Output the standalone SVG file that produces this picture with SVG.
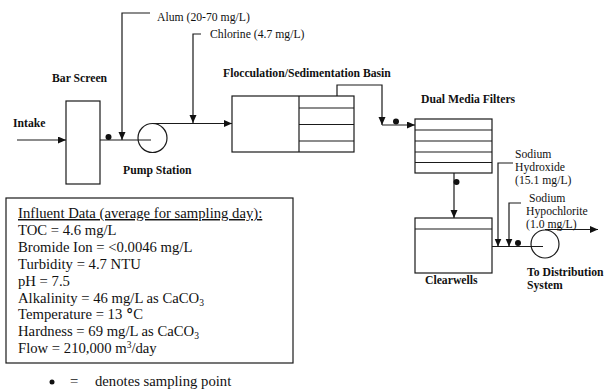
<svg xmlns="http://www.w3.org/2000/svg" width="606" height="389" viewBox="0 0 606 389">
<style>
.ln{fill:none;stroke:#1a1a1a;stroke-width:1.2}
.bx{fill:#fff;stroke:#1a1a1a;stroke-width:1.2}
.lb{font-family:"Liberation Serif",serif;font-weight:bold;font-size:11.7px;fill:#111}
.rg{font-family:"Liberation Serif",serif;font-size:11.7px;fill:#111}
.dt{font-family:"Liberation Serif",serif;font-size:14.7px;fill:#111}
.dot{fill:#111}
</style>
<defs>
<marker id="ah" markerUnits="userSpaceOnUse" markerWidth="9" markerHeight="8" refX="8" refY="3.5" orient="auto">
<path d="M0,0 L8,3.5 L0,7 z" fill="#111"/>
</marker>
</defs>
<rect width="606" height="389" fill="#fff"/>

<g id="connectors">
<line class="ln" x1="17" y1="140" x2="66" y2="140" marker-end="url(#ah)"/>
<line class="ln" x1="100" y1="140" x2="151" y2="140"/>
<polyline class="ln" points="150,13 122,13 122,140" marker-end="url(#ah)"/>
<polyline class="ln" points="201,34 193,34 193,123" marker-end="url(#ah)"/>
<line class="ln" x1="152" y1="123.5" x2="232" y2="123.5" marker-end="url(#ah)"/>
<polyline class="ln" points="337,96 337,85 382,85 382,125" marker-end="url(#ah)"/>
<line class="ln" x1="382" y1="125" x2="415" y2="125" marker-end="url(#ah)"/>
<line class="ln" x1="454" y1="173" x2="454" y2="218" marker-end="url(#ah)"/>
<line class="ln" x1="492" y1="246.5" x2="543" y2="246.5"/>
<polyline class="ln" points="513,163 498,163 498,246.5" marker-end="url(#ah)"/>
<polyline class="ln" points="521,203 509,203 509,246.5" marker-end="url(#ah)"/>
<line class="ln" x1="545" y1="229.5" x2="598" y2="229.5" marker-end="url(#ah)"/>
</g>

<g id="intake"><text class="lb" x="13" y="127">Intake</text></g>

<g id="bar-screen">
<rect class="bx" x="66" y="101" width="34" height="83"/>
<text class="lb" x="52" y="82">Bar Screen</text>
</g>

<g id="alum"><text class="rg" x="157" y="21">Alum (20-70 mg/L)</text></g>
<g id="chlorine"><text class="rg" x="210" y="38">Chlorine (4.7 mg/L)</text></g>

<g id="pump-station">
<circle class="ln" cx="152.5" cy="138" r="14.5"/>
<text class="lb" x="123" y="174">Pump Station</text>
</g>

<g id="floc-basin">
<rect class="bx" x="232" y="96" width="122" height="56"/>
<line class="ln" x1="299" y1="96" x2="299" y2="152"/>
<line class="ln" x1="299" y1="108" x2="354" y2="108"/>
<line class="ln" x1="299" y1="124.5" x2="354" y2="124.5"/>
<line class="ln" x1="299" y1="141" x2="354" y2="141"/>
<text class="lb" x="223" y="77">Flocculation/Sedimentation Basin</text>
</g>

<g id="dual-media-filters">
<rect class="bx" x="415" y="119" width="77" height="54"/>
<line class="ln" x1="415" y1="130" x2="492" y2="130"/>
<line class="ln" x1="415" y1="141" x2="492" y2="141"/>
<line class="ln" x1="415" y1="152" x2="492" y2="152"/>
<line class="ln" x1="415" y1="162.5" x2="492" y2="162.5"/>
<text class="lb" x="421" y="103">Dual Media Filters</text>
</g>

<g id="clearwells">
<rect class="bx" x="415" y="218" width="77" height="55"/>
<line class="ln" x1="415" y1="229" x2="492" y2="229"/>
<text class="lb" x="425" y="284">Clearwells</text>
</g>

<g id="sodium-hydroxide">
<text class="rg" x="515" y="158">Sodium</text>
<text class="rg" x="515" y="171">Hydroxide</text>
<text class="rg" x="515" y="184">(15.1 mg/L)</text>
</g>

<g id="sodium-hypochlorite">
<text class="rg" x="529" y="201.5">Sodium</text>
<text class="rg" x="526" y="214.5">Hypochlorite</text>
<text class="rg" x="526" y="227.5">(1.0 mg/L)</text>
</g>

<g id="distribution">
<circle class="ln" cx="545" cy="244" r="14"/>
<text class="lb" x="527" y="276">To Distribution</text>
<text class="lb" x="527" y="289">System</text>
</g>

<g id="sampling-points">
<circle class="dot" cx="108.5" cy="137" r="3"/>
<circle class="dot" cx="396" cy="121.5" r="3"/>
<circle class="dot" cx="456.5" cy="182" r="3"/>
<circle class="dot" cx="518" cy="243" r="3"/>
</g>

<g id="influent-data">
<rect class="bx" x="6" y="198" width="287" height="165"/>
<text class="dt" x="18" y="218" text-decoration="underline">Influent Data (average for sampling day):</text>
<text class="dt" x="18" y="234.9">TOC = 4.6 mg/L</text>
<text class="dt" x="18" y="251.8">Bromide Ion = &lt;0.0046 mg/L</text>
<text class="dt" x="18" y="268.7">Turbidity = 4.7 NTU</text>
<text class="dt" x="18" y="285.6">pH = 7.5</text>
<text class="dt" x="18" y="302.5">Alkalinity = 46 mg/L as CaCO<tspan font-size="9.5" dy="3">3</tspan></text>
<text class="dt" x="18" y="319.4">Temperature = 13 <tspan font-family="'DejaVu Sans',sans-serif" font-weight="bold">°</tspan>C</text>
<text class="dt" x="18" y="336.3">Hardness = 69 mg/L as CaCO<tspan font-size="9.5" dy="3">3</tspan></text>
<text class="dt" x="18" y="353.2">Flow = 210,000 m<tspan font-size="9.5" dy="-5">3</tspan><tspan dy="5">/day</tspan></text>
</g>

<g id="legend">
<circle class="dot" cx="52" cy="382" r="2.5"/>
<text class="dt" x="70" y="386" font-size="15">=</text>
<text class="dt" x="95" y="386" font-size="15">denotes sampling point</text>
</g>
</svg>
